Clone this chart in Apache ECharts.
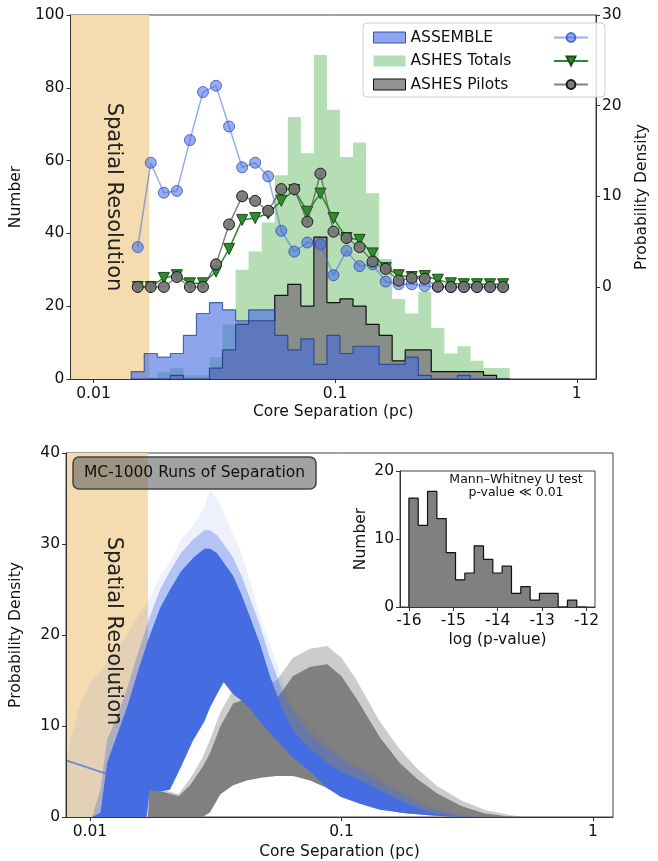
<!DOCTYPE html>
<html><head><meta charset="utf-8">
<script src="https://cdn.jsdelivr.net/npm/echarts@6/dist/echarts.min.js"></script>
<style>html,body{margin:0;padding:0;background:#fff}#c{width:658px;height:861px}</style>
</head><body><div id="c"></div>
<script>
// ---------- Top panel: histograms (counts, left axis) ----------
var binEdges = [0.01432,0.01622,0.01837,0.02080,0.02355,0.02667,0.03020,0.03420,0.03873,0.04385,
  0.04966,0.05623,0.06368,0.07211,0.08166,0.09247,0.10471,0.11858,0.13428,0.15205,
  0.17219,0.19498,0.22080,0.25003,0.28314,0.32063,0.36308,0.41115,0.46559,0.52723];
var assembleCounts = [2,7,6,7,12,18,21,19,16,19,19,12,8,11,4,12,7,9,9,4,4,6,1,0,0,1,0,0,0];
var ashesTotalCounts = [0,0,2,3,1,1,6,15,30,35,43,56,72,62,89,74,61,65,51,33,22,18,24,14,7,9,5,3,3];
var ashesPilotCounts = [0,0,0,1,0,0,3,8,15,16,16,23,26,20,39,21,22,20,15,12,5,8,8,2,2,2,2,1,0];
// ---------- Top panel: probability density (right axis) ----------
var assembleDensity = [4.4,13.7,10.4,10.6,16.2,21.5,22.2,17.7,13.2,13.7,12.2,6.2,3.9,4.9,4.7,1.3,4.0,2.3,2.5,0.6,0.3,0.3,0.1,0,0,0,0,0,0];
var ashesTotalDensity = [0,0,1.0,1.3,0.4,0.4,1.7,4.2,7.4,7.6,8.1,9.5,10.7,8.3,10.3,7.6,5.4,5.2,3.7,2.1,1.3,1.1,1.2,0.8,0.4,0.3,0.3,0.3,0.3];
var ashesPilotDensity = [0,0,0,1.1,0,0,2.5,6.9,10.0,9.5,8.4,10.8,10.8,7.2,12.5,6.1,5.4,4.4,2.8,2.0,0.7,1.0,0.9,0.05,0,0,0,0,0];
// ---------- Bottom panel: MC run envelopes ----------
var mcBlueX     = [0.0080,0.0090,0.0102,0.0110,0.0117,0.0128,0.0140,0.0155,0.0168,0.0173,0.0190,0.0208,0.0230,0.0257,0.0285,0.0300,0.0320,0.0340,0.0371,0.0400,0.0433,0.0475,0.0520,0.0580,0.0641,0.0750,0.0876,0.0995,0.1200,0.1420,0.1800,0.2250,0.2960,0.3500];
var mcBlueUpper = [0,0,0,0.5,6,9,12,16,19,20,23,25,27,28.5,29.5,29.5,29,28,26.5,24.5,22,19,15.5,12,9.5,7.5,6,5,4,2.9,1.5,0.5,0,0];
var mcBlueLower = [0,0,0,0,0,0,0,0,0,3.0,2.8,3.0,5.5,8.4,10.5,12,13.5,14.8,13.5,12.8,11.8,10.5,9.2,7.8,6.5,5,3.2,2.2,1.4,0.8,0.4,0.2,0,0];
var mcBlueHalo  = [0,0,0,3,8.5,11,14,18,21,22,25,27,29,30.5,31.5,31.5,31,30,28.5,26.5,24,21,17.5,14,11.5,9,7.5,6.2,5,3.8,2.2,0.9,0.1,0];
var mcBlueWisps = [6,12,15,16,17,18.5,20,22,23.5,24,26.5,28,30.5,32,34,36,35,33.5,31,29,26,22,19,15,12,10,8,7,5.5,4.5,2.5,1.2,0.3,0];
var mcBlueStrayX = [0.0081,0.0185];
var mcBlueStrayY = [6.2,2.9];
var mcGreyX     = [0.0170,0.0172,0.0200,0.0225,0.0250,0.0280,0.0300,0.0330,0.0371,0.0420,0.0480,0.0552,0.0641,0.0750,0.0876,0.1000,0.1150,0.1420,0.1700,0.2000,0.2400,0.3000,0.3700,0.4500,0.5200];
var mcGreyUpper = [0,3.1,2.7,2.3,3.5,5.5,7,10,12.5,13,12.5,13,15.5,16.5,16.8,15.5,13,8.8,6,4.2,2.6,1.2,0.4,0.1,0];
var mcGreyLower = [0,0,0,0,0,0,0.5,2.5,3.5,4,4.3,4.5,4.5,4,3.2,2.4,1.6,0.9,0.5,0.3,0.1,0,0,0,0];
var mcGreyHalo  = [0,3.3,2.9,2.5,4.2,6.5,8.5,11.5,14,14.8,14.5,15,17.5,18.5,18.8,17.5,15,10.5,7.5,5.3,3.4,1.8,0.8,0.3,0];
// ---------- Inset: p-value histogram ----------
var pvalEdges = [-16.0,-15.79,-15.58,-15.37,-15.16,-14.95,-14.74,-14.53,-14.32,-14.11,-13.9,-13.69,-13.48,-13.27,-13.06,-12.85,-12.64,-12.43,-12.22,-12.01];
var pvalCounts = [16,12,17,13,8,4,5,9,7,5,6,2,3,1,2,2,0,1,0];
// ---------- ticks ----------
var sepTicks = [0.01,0.1,1];
var sepTickLabels = ['0.01','0.1','1'];
var densTicks = [0,10,20,30];
var pvalTicks = [-16,-15,-14,-13,-12];
var spatialRes = 0.017;

var FONT = 'DejaVu Sans';
var FS = 15.5;

function stepData(edges, counts){
  var d = [[edges[0],0]];
  for (var i=0;i<counts.length;i++) d.push([edges[i],counts[i]]);
  d.push([edges[counts.length],counts[counts.length-1]]);
  d.push([edges[counts.length],0]);
  return d;
}
function centers(edges){
  var c=[]; for (var i=0;i<edges.length-1;i++) c.push(Math.sqrt(edges[i]*edges[i+1])); return c;
}
function pairs(xs, ys){ return xs.map(function(x,i){return [x,ys[i]];}); }
var binCenters = centers(binEdges);

function band(name, xs, lo, hi, fill, xi, yi, z){
  return {
    type:'custom', name:name, xAxisIndex:xi, yAxisIndex:yi, z:z, silent:true, clip:true,
    data:[[xs[0],0]],
    renderItem:function(params, api){
      var pts=[];
      for (var i=0;i<xs.length;i++) pts.push(api.coord([xs[i],hi[i]]));
      for (var j=xs.length-1;j>=0;j--) pts.push(api.coord([xs[j],lo[j]]));
      return {type:'polygon', shape:{points:pts}, style:{fill:fill}};
    }
  };
}

var axisLabelBase = {fontFamily:FONT, fontSize:FS, color:'#111'};
function logX(gi, gap){
  return {
    type:'log', gridIndex:gi, logBase:10, min:0.00803, max:1.201, z:10,
    axisLine:{show:true, lineStyle:{color:'#333'}},
    axisTick:{show:true, length:4, customValues:sepTicks, lineStyle:{color:'#333'}},
    axisLabel:Object.assign({margin:7, customValues:sepTicks, formatter:function(v){
      return v<0.05?sepTickLabels[0]:(v<0.5?sepTickLabels[1]:sepTickLabels[2]);}}, axisLabelBase),
    splitLine:{show:false}, minorTick:{show:false},
    name:'Core Separation (pc)', nameLocation:'middle', nameGap:gap,
    nameTextStyle:{fontFamily:FONT, fontSize:FS, color:'#111'}
  };
}

var option = {
  animation:false,
  backgroundColor:'#fff',
  grid:[
    {left:66, top:15, width:547, height:364, show:true, borderColor:'#444', borderWidth:1, backgroundColor:'transparent'},
    {left:66, top:453, width:547, height:364, show:true, borderColor:'#444', borderWidth:1, backgroundColor:'transparent'},
    {left:400, top:471, width:195, height:136, show:true, borderColor:'#444', borderWidth:1, backgroundColor:'#fff', z:5}
  ],
  xAxis:[
    logX(0, 25),
    logX(1, 27),
    {type:'value', gridIndex:2, min:-16.2, max:-11.81, z:10,
     axisLine:{show:true, lineStyle:{color:'#333'}},
     axisTick:{show:true, length:4, customValues:pvalTicks, lineStyle:{color:'#333'}},
     axisLabel:Object.assign({margin:6, customValues:pvalTicks, formatter:function(v){return String(Math.round(v));}}, axisLabelBase),
     splitLine:{show:false},
     name:'log (p-value)', nameLocation:'middle', nameGap:25,
     nameTextStyle:{fontFamily:FONT, fontSize:FS, color:'#111'}}
  ],
  yAxis:[
    {type:'value', gridIndex:0, min:0, max:100, interval:20, z:10,
     axisLine:{show:true, lineStyle:{color:'#333'}},
     axisTick:{show:true, length:4, lineStyle:{color:'#333'}},
     axisLabel:Object.assign({margin:6}, axisLabelBase), splitLine:{show:false},
     name:'Number', nameLocation:'middle', nameGap:42, nameRotate:90,
     nameTextStyle:{fontFamily:FONT, fontSize:FS, color:'#111'}},
    {type:'value', gridIndex:0, position:'right', min:-10.15, max:30, z:10,
     axisLine:{show:true, lineStyle:{color:'#333'}},
     axisTick:{show:true, length:4, customValues:densTicks, lineStyle:{color:'#333'}},
     axisLabel:Object.assign({margin:6, customValues:densTicks}, axisLabelBase), splitLine:{show:false},
     name:'Probability Density', nameLocation:'middle', nameGap:38, nameRotate:90,
     nameTextStyle:{fontFamily:FONT, fontSize:FS, color:'#111'}},
    {type:'value', gridIndex:1, min:0, max:40, interval:10, z:10,
     axisLine:{show:true, lineStyle:{color:'#333'}},
     axisTick:{show:true, length:4, lineStyle:{color:'#333'}},
     axisLabel:Object.assign({margin:6}, axisLabelBase), splitLine:{show:false},
     name:'Probability Density', nameLocation:'middle', nameGap:42, nameRotate:90,
     nameTextStyle:{fontFamily:FONT, fontSize:FS, color:'#111'}},
    {type:'value', gridIndex:2, min:0, max:20, interval:10, z:10,
     axisLine:{show:true, lineStyle:{color:'#333'}},
     axisTick:{show:true, length:4, lineStyle:{color:'#333'}},
     axisLabel:Object.assign({margin:6}, axisLabelBase), splitLine:{show:false},
     name:'Number', nameLocation:'middle', nameGap:31, nameRotate:90,
     nameTextStyle:{fontFamily:FONT, fontSize:FS, color:'#111'}}
  ],
  legend:[
    {left:368, top:24.5, orient:'vertical', itemWidth:32, itemHeight:11, itemGap:7.5, z:20,
     textStyle:{fontFamily:FONT, fontSize:FS, color:'#111'}, selectedMode:false,
     data:[
       {name:'ASSEMBLE', icon:'rect', itemStyle:{color:'rgba(65,105,225,0.6)', borderColor:'rgba(25,50,150,0.8)', borderWidth:1}},
       {name:'ASHES Totals', icon:'rect', itemStyle:{color:'rgba(44,160,44,0.35)', borderWidth:0}},
       {name:'ASHES Pilots', icon:'rect', itemStyle:{color:'rgba(128,128,128,0.85)', borderColor:'#111', borderWidth:1}}
     ]},
    {left:548, top:24.5, orient:'vertical', itemWidth:34, itemHeight:11, itemGap:7.5, z:20,
     textStyle:{fontFamily:FONT, fontSize:FS, color:'#111'}, selectedMode:false,
     formatter:function(){return ' ';},
     data:['ASSEMBLE density','ASHES Totals density','ASHES Pilots density']}
  ],
  graphic:[
    {type:'rect', z:15, shape:{x:363, y:23, width:242, height:74, r:4},
     style:{fill:'rgba(255,255,255,0.85)', stroke:'#ccc', lineWidth:1}},
    {type:'text', z:30, x:113, y:197, rotation:-Math.PI/2,
     style:{text:'Spatial Resolution', fontFamily:FONT, fontSize:21, fill:'#222', align:'center', verticalAlign:'middle'}},
    {type:'text', z:30, x:113, y:631, rotation:-Math.PI/2,
     style:{text:'Spatial Resolution', fontFamily:FONT, fontSize:21, fill:'#222', align:'center', verticalAlign:'middle'}},
    {type:'rect', z:30, shape:{x:73, y:457, width:243, height:32, r:6},
     style:{fill:'rgba(100,100,100,0.6)', stroke:'#444', lineWidth:1.5}},
    {type:'text', z:31, x:194.5, y:473,
     style:{text:'MC-1000 Runs of Separation', fontFamily:FONT, fontSize:FS, fill:'#111', align:'center', verticalAlign:'middle'}},
    {type:'text', z:31, x:516, y:480,
     style:{text:'Mann\u2013Whitney U test', fontFamily:FONT, fontSize:12.5, fill:'#111', align:'center', verticalAlign:'middle'}},
    {type:'text', z:31, x:516, y:493,
     style:{text:'p-value \u226A 0.01', fontFamily:FONT, fontSize:12.5, fill:'#111', align:'center', verticalAlign:'middle'}}
  ],
  series:[
    {type:'line', xAxisIndex:0, yAxisIndex:0, data:[], z:0, silent:true,
     markArea:{silent:true, itemStyle:{color:'#f5dbb0'}, data:[[{xAxis:0.00803},{xAxis:spatialRes}]]}},
    {type:'line', xAxisIndex:1, yAxisIndex:2, data:[], z:0, silent:true,
     markArea:{silent:true, itemStyle:{color:'#f5dbb0'}, data:[[{xAxis:0.00803},{xAxis:spatialRes}]]}},
    {name:'ASHES Totals', type:'line', step:'end', xAxisIndex:0, yAxisIndex:0, z:1, symbol:'none', silent:true,
     data:stepData(binEdges, ashesTotalCounts), lineStyle:{width:0, color:'rgba(44,160,44,0)'},
     itemStyle:{color:'rgba(44,160,44,0.35)'}, areaStyle:{color:'rgba(44,160,44,0.35)', opacity:1}},
    {name:'ASHES Pilots', type:'line', step:'end', xAxisIndex:0, yAxisIndex:0, z:2, symbol:'none', silent:true,
     data:stepData(binEdges, ashesPilotCounts), lineStyle:{width:1.2, color:'#111'},
     itemStyle:{color:'rgba(128,128,128,0.85)'}, areaStyle:{color:'rgba(128,128,128,0.85)', opacity:1}},
    {name:'ASSEMBLE', type:'line', step:'end', xAxisIndex:0, yAxisIndex:0, z:3, symbol:'none', silent:true,
     data:stepData(binEdges, assembleCounts), lineStyle:{width:1.2, color:'rgba(25,50,150,0.7)'},
     itemStyle:{color:'rgba(65,105,225,0.6)'}, areaStyle:{color:'rgba(65,105,225,0.6)', opacity:1}},
    {name:'ASSEMBLE density', type:'line', xAxisIndex:0, yAxisIndex:1, z:5, symbol:'circle', symbolSize:11,
     data:pairs(binCenters, assembleDensity),
     lineStyle:{width:1.5, color:'rgba(65,105,225,0.55)'},
     itemStyle:{color:'rgba(65,105,225,0.55)', borderColor:'rgba(40,70,190,0.75)', borderWidth:1}},
    {name:'ASHES Totals density', type:'line', xAxisIndex:0, yAxisIndex:1, z:6, symbol:'triangle', symbolRotate:180, symbolSize:11,
     data:pairs(binCenters, ashesTotalDensity),
     lineStyle:{width:1.5, color:'#2a8a2a'},
     itemStyle:{color:'#2e8b2e', borderColor:'#184d18', borderWidth:1}},
    {name:'ASHES Pilots density', type:'line', xAxisIndex:0, yAxisIndex:1, z:7, symbol:'circle', symbolSize:11,
     data:pairs(binCenters, ashesPilotDensity),
     lineStyle:{width:1.5, color:'rgba(90,90,90,0.75)'},
     itemStyle:{color:'rgba(115,115,115,0.9)', borderColor:'#1a1a1a', borderWidth:1}},
    band('grey halo', mcGreyX, mcGreyUpper, mcGreyHalo, 'rgba(128,128,128,0.4)', 1, 2, 2),
    band('grey core', mcGreyX, mcGreyLower, mcGreyUpper, 'rgb(128,128,128)', 1, 2, 3),
    band('blue wisps', mcBlueX, mcBlueHalo, mcBlueWisps, 'rgba(65,105,225,0.09)', 1, 2, 4),
    band('blue halo', mcBlueX, mcBlueUpper, mcBlueHalo, 'rgba(65,105,225,0.4)', 1, 2, 4),
    band('blue core', mcBlueX, mcBlueLower, mcBlueUpper, 'rgb(70,108,226)', 1, 2, 5),
    {type:'line', xAxisIndex:1, yAxisIndex:2, z:4, symbol:'none', silent:true,
     data:pairs(mcBlueStrayX, mcBlueStrayY), lineStyle:{width:2, color:'rgba(65,105,225,0.7)'}},
    {type:'line', step:'end', xAxisIndex:2, yAxisIndex:3, z:8, symbol:'none', silent:true,
     data:stepData(pvalEdges, pvalCounts), lineStyle:{width:1.2, color:'#111'},
     itemStyle:{color:'#808080'}, areaStyle:{color:'#808080', opacity:1}}
  ]
};
var chart = echarts.init(document.getElementById('c'), null, {renderer:'canvas'});
chart.setOption(option);
</script></body></html>
